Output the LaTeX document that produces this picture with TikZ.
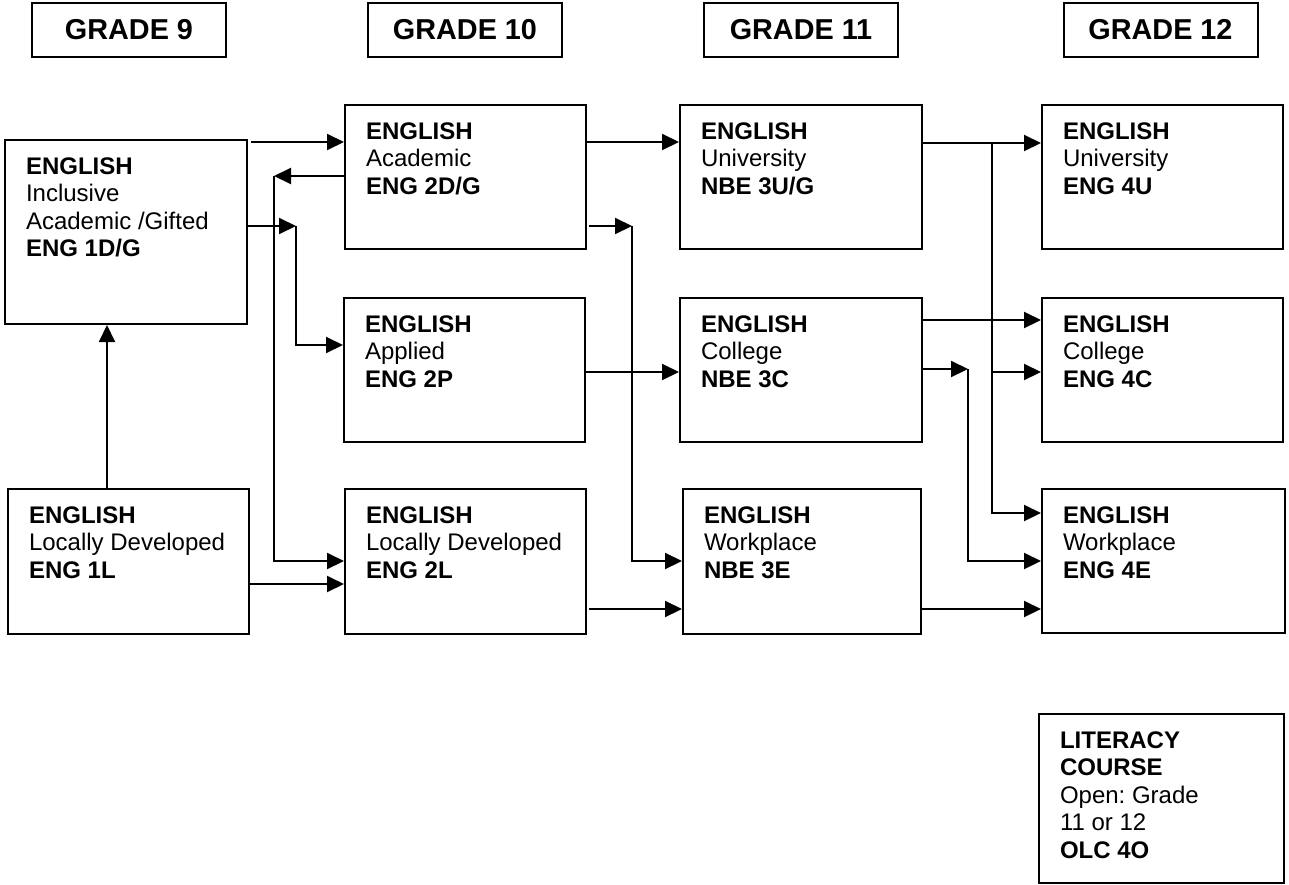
\documentclass[tikz,border=0pt]{standalone}
\usepackage{fontspec}
\setmainfont{Liberation Sans}
\frenchspacing
\usetikzlibrary{positioning, arrows.meta}
\tikzset{
    ->,
    >={Triangle[length=8.5pt, width=8pt]},
    grade/.style={draw, minimum width=97pt, minimum height=27pt,
        font=\fontsize{14.4}{17}\selectfont\bfseries},
    course/.style={draw, anchor=north west, minimum width=120.5pt, minimum height=72pt},
    info/.style={align=left, inner sep=0pt, font=\fontsize{12}{13.8}\selectfont},
}

\begin{document}
\begin{tikzpicture}[x=0.5pt, y=-0.5pt, line width=1pt]
    \useasboundingbox (0,0) rectangle (1289,884);

    % grade headers
    \node[grade] (gr9)  at (129,30)    {GRADE 9};
    \node[grade] (gr10) at (465,30)    {GRADE 10};
    \node[grade] (gr11) at (801,30)    {GRADE 11};
    \node[grade] (gr12) at (1160.5,30) {GRADE 12};

    % course boxes
    \node[course, minimum width=121pt, minimum height=92pt] (eng1d) at (4,139) {};
    \node[course, minimum height=72.5pt] (eng1l) at (7,488) {};
    \node[course] (eng2d) at (344,104) {};
    \node[course] (eng2p) at (343,297) {};
    \node[course, minimum height=72.5pt] (eng2l) at (344,488) {};
    \node[course, minimum width=121pt] (nbe3u) at (679,104) {};
    \node[course, minimum width=121pt] (nbe3c) at (679,297) {};
    \node[course, minimum width=119pt, minimum height=72.5pt] (nbe3e) at (682,488) {};
    \node[course] (eng4u) at (1041,104) {};
    \node[course] (eng4c) at (1041,297) {};
    \node[course, minimum width=121.5pt] (eng4e) at (1041,488) {};
    \node[course, minimum width=122.5pt, minimum height=84.5pt] (olc4o) at (1038,713) {};

    % course texts
    \node[info, below right=8.7pt and 10.5pt of eng1d.north west] (eng1d-t)
        {\textbf{ENGLISH}\\Inclusive\\Academic /Gifted\\\textbf{ENG 1D/G}};
    \node[info, below right=8.7pt and 10.5pt of eng1l.north west] (eng1l-t)
        {\textbf{ENGLISH}\\Locally Developed\\\textbf{ENG 1L}};
    \node[info, below right=8.7pt and 10.5pt of eng2d.north west] (eng2d-t)
        {\textbf{ENGLISH}\\Academic\\\textbf{ENG 2D/G}};
    \node[info, below right=8.7pt and 10.5pt of eng2p.north west] (eng2p-t)
        {\textbf{ENGLISH}\\Applied\\\textbf{ENG 2P}};
    \node[info, below right=8.7pt and 10.5pt of eng2l.north west] (eng2l-t)
        {\textbf{ENGLISH}\\Locally Developed\\\textbf{ENG 2L}};
    \node[info, below right=8.7pt and 10.5pt of nbe3u.north west] (nbe3u-t)
        {\textbf{ENGLISH}\\University\\\textbf{NBE 3U/G}};
    \node[info, below right=8.7pt and 10.5pt of nbe3c.north west] (nbe3c-t)
        {\textbf{ENGLISH}\\College\\\textbf{NBE 3C}};
    \node[info, below right=8.7pt and 10.5pt of nbe3e.north west] (nbe3e-t)
        {\textbf{ENGLISH}\\Workplace\\\textbf{NBE 3E}};
    \node[info, below right=8.7pt and 10.5pt of eng4u.north west] (eng4u-t)
        {\textbf{ENGLISH}\\University\\\textbf{ENG 4U}};
    \node[info, below right=8.7pt and 10.5pt of eng4c.north west] (eng4c-t)
        {\textbf{ENGLISH}\\College\\\textbf{ENG 4C}};
    \node[info, below right=8.7pt and 10.5pt of eng4e.north west] (eng4e-t)
        {\textbf{ENGLISH}\\Workplace\\\textbf{ENG 4E}};
    \node[info, below right=8.7pt and 10.5pt of olc4o.north west] (olc4o-t)
        {\textbf{LITERACY}\\\textbf{COURSE}\\Open: Grade\\11 or 12\\\textbf{OLC 4O}};

    % bend points
    \coordinate (k1) at (274,176);
    \coordinate (k2) at (296,226);
    \coordinate (k3) at (632,226);
    \coordinate (k4) at (968,369);
    \coordinate (k5) at (992,143);

    % grade 9 to grade 10
    \draw ([xshift=1.5pt]eng1d.east |- 0,142) -- (eng2d.west |- 0,142);
    \draw (eng2d.west |- k1) -- (k1);
    \draw (k1) -- (k1 |- 0,561) -- (eng2l.west |- 0,561);
    \draw (eng1d.east |- k2) -- (k2);
    \draw (k2) -- (k2 |- 0,345) -- (eng2p.west |- 0,345);
    \draw (eng1l.north -| 107,0) -- (eng1d.south -| 107,0);
    \draw (eng1l.east |- 0,584) -- (eng2l.west |- 0,584);

    % grade 10 to grade 11
    \draw (eng2d.east |- 0,142) -- (nbe3u.west |- 0,142);
    \draw ([xshift=1pt]eng2d.east |- k3) -- (k3);
    \draw (k3) -- (k3 |- 0,561) -- (nbe3e.west |- 0,561);
    \draw (eng2p.east |- 0,372) -- (nbe3c.west |- 0,372);
    \draw ([xshift=1pt]eng2l.east |- 0,609) -- (nbe3e.west |- 0,609);

    % grade 11 to grade 12
    \draw (nbe3u.east |- k5) -- (eng4u.west |- k5);
    \draw (k5) -- (k5 |- 0,513) -- (eng4e.west |- 0,513);
    \draw (k5 |- 0,372) -- (eng4c.west |- 0,372);
    \draw (nbe3c.east |- 0,320) -- (eng4c.west |- 0,320);
    \draw (nbe3c.east |- k4) -- (k4);
    \draw (k4) -- (k4 |- 0,561) -- (eng4e.west |- 0,561);
    \draw (nbe3e.east |- 0,609) -- (eng4e.west |- 0,609);
\end{tikzpicture}
\end{document}
